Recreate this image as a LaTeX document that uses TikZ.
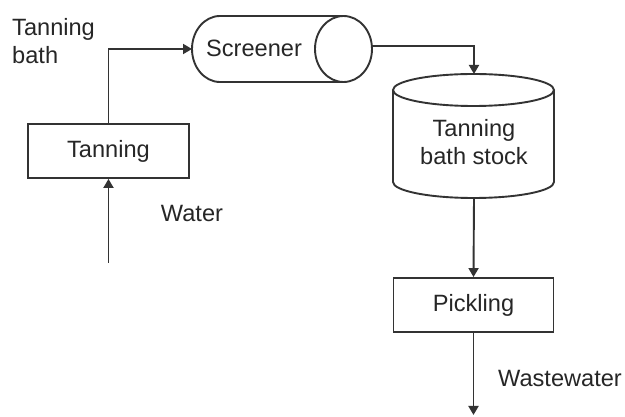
\documentclass[tikz,border=0pt]{standalone}
\usepackage{fontspec}
\setmainfont{Liberation Sans}
\usetikzlibrary{arrows.meta}
\begin{document}
\begin{tikzpicture}[x=1pt,y=-1pt,
  txt/.style={font=\fontsize{23.6}{28}\selectfont, text=black!85, inner sep=0pt},
  proc/.style={draw=black!80, line width=1.9pt, minimum height=54pt, inner sep=0pt, text=black!85, font=\fontsize{23.6}{28}\selectfont},
  shp/.style={draw=black!80, line width=1.9pt},
  flow/.style={draw=black!80, line width=1.9pt, -{Triangle[length=9pt,width=10pt]}}]
\useasboundingbox (0,0) rectangle (625,417);
% Tanning process box
\node[proc, minimum width=161pt] (tanning) at (108.5,151) {Tanning};
% Pickling box
\node[proc, minimum width=160pt] (pickling) at (473.5,305) {Pickling};
% Screener (horizontal cylinder)
\draw[shp] (343.5,16) -- (220,16) arc[start angle=90,end angle=270,x radius=28pt,y radius=33pt] -- (343.5,82);
\draw[shp] (343.5,49) ellipse [x radius=28.5pt, y radius=33pt];
\node[txt] (screener) at (254,48) {Screener};
% Tank (vertical cylinder)
\draw[shp] (393,90) -- (393,182) arc[start angle=180,end angle=360,x radius=80.5pt,y radius=16pt] -- (554,90);
\draw[shp] (473.5,90) ellipse [x radius=80.5pt, y radius=16pt];
\node[txt, align=center] (stock) at (474,142) {Tanning\\bath stock};
% Labels
\node[txt, anchor=west, align=left] (bathlbl) at (12,41) {Tanning\\bath};
\node[txt] (water) at (192,213) {Water};
\node[txt] (waste) at (560,378) {Wastewater};
% Connector coordinates
\coordinate (scrin) at (192,49);
\coordinate (scrout) at (372,46);
\coordinate (tanktop) at (474,74);
\coordinate (tankbot) at (474,198);
\coordinate (win) at (108.5,263);
\coordinate (wout) at (473.5,415);
% Connectors
\draw[flow] (tanning.north) |- (scrin);
\draw[flow] (win) -- (tanning.south);
\draw[flow] (scrout) -| (tanktop);
\draw[flow] (tankbot) -- (pickling.north);
\draw[flow] (pickling.south) -- (wout);
\end{tikzpicture}
\end{document}
